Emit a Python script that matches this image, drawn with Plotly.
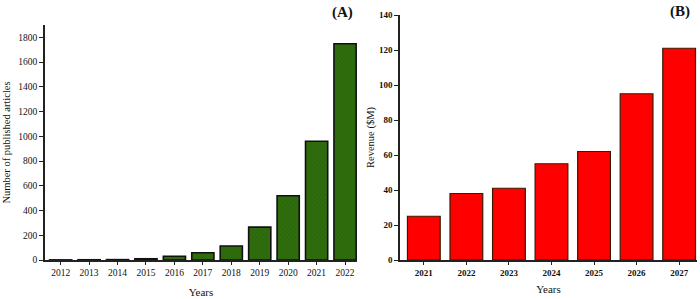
import plotly.graph_objects as go

years_a = ["2012", "2013", "2014", "2015", "2016", "2017", "2018", "2019", "2020", "2021", "2022"]
articles = [1, 2, 3, 10, 30, 59, 113, 266, 519, 960, 1748]
a_ticks = [0, 200, 400, 600, 800, 1000, 1200, 1400, 1600, 1800]

years_b = ["2021", "2022", "2023", "2024", "2025", "2026", "2027"]
revenue = [25, 38, 41, 55, 62, 95, 121]
b_ticks = [0, 20, 40, 60, 80, 100, 120, 140]

W, H = 700, 299
FONT = "Liberation Serif, Times New Roman, serif"

fig = go.Figure()
fig.add_trace(go.Bar(
    x=years_a, y=articles, xaxis="x", yaxis="y", width=0.78,
    marker=dict(color="#2f6e0c", line=dict(color="#111", width=1.6),
                pattern=dict(shape="x", fgcolor="#23500a", size=3, solidity=0.3)),
    showlegend=False))
fig.add_trace(go.Bar(
    x=years_b, y=revenue, xaxis="x2", yaxis="y2", width=0.77,
    marker=dict(color="#ff0000", line=dict(color="#3a1a00", width=1.2)),
    showlegend=False))

def px_x(p):
    return p / W

def px_y(p):
    return 1 - p / H

axis_common = dict(showline=True, linecolor="#222", linewidth=1.5, showgrid=False,
                   zeroline=False, automargin=False, tickcolor="#222", tickwidth=1.2)

fig.update_layout(
    width=W, height=H, margin=dict(l=0, r=0, t=0, b=0, autoexpand=False),
    paper_bgcolor="white", plot_bgcolor="white",
    bargap=0.22,
    xaxis=dict(domain=[px_x(45), px_x(357)], anchor="y", range=[-0.55, 10.42],
               ticks="outside", ticklen=3, **axis_common,
               tickfont=dict(family=FONT, size=9.5, color="#111"),
               title=dict(text="Years", font=dict(family=FONT, size=11, color="#111"), standoff=11)),
    yaxis=dict(domain=[px_y(260), px_y(25)], anchor="x", range=[0, 1900],
               tickvals=a_ticks, ticks="outside", ticklen=4, **axis_common,
               tickfont=dict(family=FONT, size=9.5, color="#111"),
               title=dict(text="Number of published articles",
                          font=dict(family=FONT, size=10.5, color="#111"), standoff=6)),
    xaxis2=dict(domain=[px_x(400), px_x(697)], anchor="y2", range=[-0.56, 6.42],
                ticks="outside", ticklen=3, **axis_common,
                tickfont=dict(family=FONT, size=9, color="#111", weight="bold"),
                title=dict(text="Years", font=dict(family=FONT, size=11, color="#111"), standoff=9)),
    yaxis2=dict(domain=[px_y(260), px_y(15)], anchor="x2", range=[0, 140],
                tickvals=b_ticks, ticks="outside", ticklen=4, **axis_common,
                tickfont=dict(family=FONT, size=9, color="#111", weight="bold"),
                title=dict(text="Revenue ($M)", font=dict(family=FONT, size=10.5, color="#111"), standoff=2)),
    annotations=[
        dict(text="<b>(A)</b>", x=px_x(342), y=px_y(13), xref="paper", yref="paper",
             xanchor="center", yanchor="middle",
             showarrow=False, font=dict(family=FONT, size=15, color="#111")),
        dict(text="<b>(B)</b>", x=px_x(680), y=px_y(12), xref="paper", yref="paper",
             xanchor="center", yanchor="middle",
             showarrow=False, font=dict(family=FONT, size=15, color="#111")),
    ],
)

fig.write_html("out.html", config={"displayModeBar": False},
               post_script="document.body.style.margin='0';document.body.style.overflow='hidden';")
